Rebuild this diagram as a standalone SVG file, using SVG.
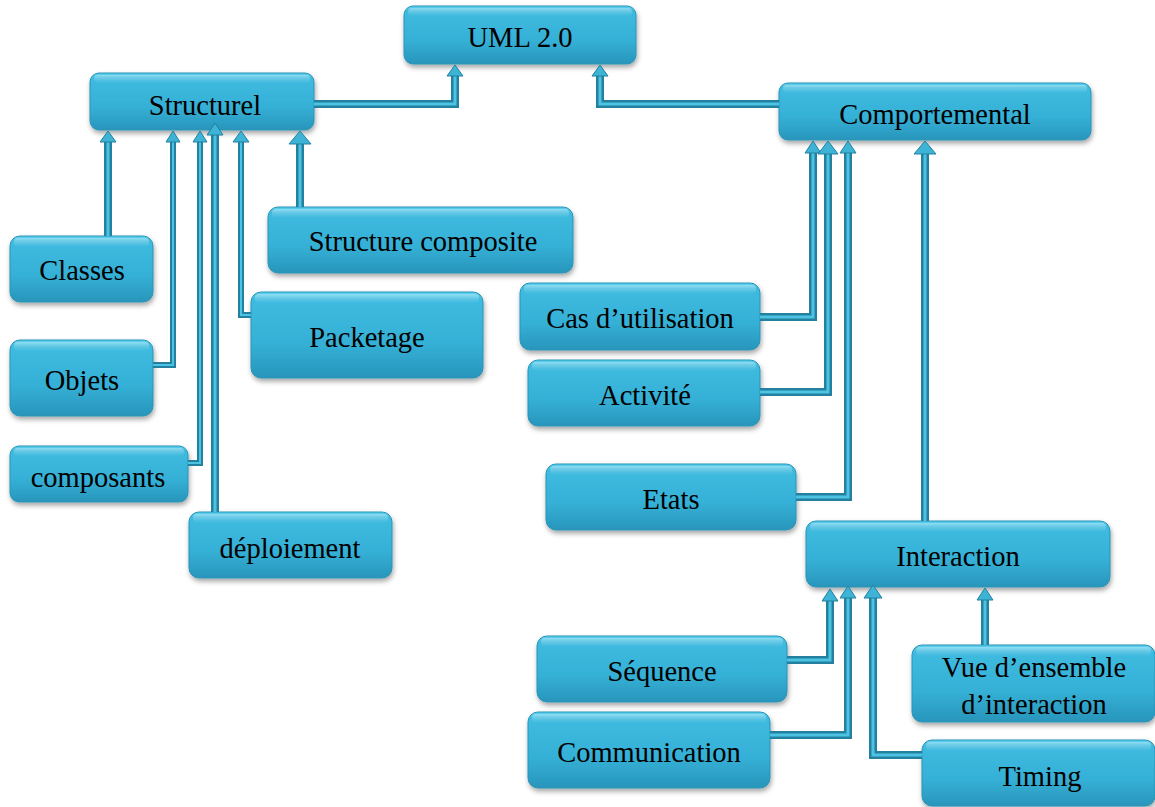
<svg xmlns="http://www.w3.org/2000/svg" width="1155" height="807" viewBox="0 0 1155 807">
  <style>
    .box rect.body { fill: url(#boxFill); stroke: #2a93b6; stroke-width: 1; filter: url(#shadow); }
    .box rect.gloss { fill: url(#gloss); }
    .box text { font-family: "Liberation Serif", "Times New Roman", serif; font-size: 28.5px; fill: #000; text-anchor: middle; dominant-baseline: central; }
    .c-out { fill: none; stroke: #23809f; stroke-width: 8; stroke-linejoin: miter; }
    .c-in { fill: none; stroke: #4cc3e3; stroke-width: 3; stroke-linejoin: miter; }
    .thin .c-out { stroke-width: 6; }
    .thin .c-in { stroke-width: 2; }
    .head { fill: #3db3d6; stroke: #23809f; stroke-width: 1; }
  </style>
  <defs>
    <linearGradient id="boxFill" x1="0" y1="0" x2="0" y2="1">
      <stop offset="0" stop-color="#5fd3f0"/>
      <stop offset="0.08" stop-color="#3fbbe0"/>
      <stop offset="0.6" stop-color="#35b0d6"/>
      <stop offset="1" stop-color="#2895bb"/>
    </linearGradient>
    <linearGradient id="gloss" x1="0" y1="0" x2="0" y2="1">
      <stop offset="0" stop-color="#ffffff" stop-opacity="0.35"/>
      <stop offset="1" stop-color="#ffffff" stop-opacity="0"/>
    </linearGradient>
    <filter id="shadow" x="-10%" y="-10%" width="120%" height="140%">
      <feDropShadow dx="1" dy="3" stdDeviation="2.5" flood-color="#000" flood-opacity="0.35"/>
    </filter>
  </defs>

  <!-- nodes -->
  <g id="uml" class="box"><rect class="body" x="404" y="6" width="232" height="58" rx="9"/><rect class="gloss" x="408" y="8" width="224" height="8" rx="4"/><text x="520" y="37">UML 2.0</text></g>
  <g id="structurel" class="box"><rect class="body" x="90" y="73" width="224" height="57" rx="9"/><rect class="gloss" x="94" y="75" width="216" height="8" rx="4"/><text x="205" y="105">Structurel</text></g>
  <g id="comportemental" class="box"><rect class="body" x="779" y="83" width="312" height="57" rx="9"/><rect class="gloss" x="783" y="85" width="304" height="8" rx="4"/><text x="935" y="114">Comportemental</text></g>
  <g id="structure-composite" class="box"><rect class="body" x="268" y="207" width="305" height="66" rx="10"/><rect class="gloss" x="272" y="209" width="297" height="9" rx="4"/><text x="423" y="241">Structure composite</text></g>
  <g id="classes" class="box"><rect class="body" x="10" y="236" width="143" height="66" rx="10"/><rect class="gloss" x="14" y="238" width="135" height="9" rx="4"/><text x="82" y="270">Classes</text></g>
  <g id="packetage" class="box"><rect class="body" x="251" y="292" width="232" height="86" rx="10"/><rect class="gloss" x="255" y="294" width="224" height="9" rx="4"/><text x="367" y="337">Packetage</text></g>
  <g id="objets" class="box"><rect class="body" x="10" y="340" width="143" height="76" rx="10"/><rect class="gloss" x="14" y="342" width="135" height="9" rx="4"/><text x="82" y="380">Objets</text></g>
  <g id="composants" class="box"><rect class="body" x="10" y="446" width="178" height="56" rx="9"/><rect class="gloss" x="14" y="448" width="170" height="8" rx="4"/><text x="98" y="477">composants</text></g>
  <g id="deploiement" class="box"><rect class="body" x="189" y="512" width="203" height="66" rx="10"/><rect class="gloss" x="193" y="514" width="195" height="9" rx="4"/><text x="290" y="548">déploiement</text></g>
  <g id="cas-utilisation" class="box"><rect class="body" x="520" y="283" width="240" height="67" rx="10"/><rect class="gloss" x="524" y="285" width="232" height="9" rx="4"/><text x="640" y="318">Cas d’utilisation</text></g>
  <g id="activite" class="box"><rect class="body" x="528" y="360" width="232" height="66" rx="10"/><rect class="gloss" x="532" y="362" width="224" height="9" rx="4"/><text x="645" y="395">Activité</text></g>
  <g id="etats" class="box"><rect class="body" x="546" y="464" width="250" height="66" rx="10"/><rect class="gloss" x="550" y="466" width="242" height="9" rx="4"/><text x="671" y="499">Etats</text></g>
  <g id="interaction" class="box"><rect class="body" x="806" y="521" width="304" height="66" rx="10"/><rect class="gloss" x="810" y="523" width="296" height="9" rx="4"/><text x="958" y="556">Interaction</text></g>
  <g id="sequence" class="box"><rect class="body" x="537" y="636" width="250" height="66" rx="10"/><rect class="gloss" x="541" y="638" width="242" height="9" rx="4"/><text x="662" y="671">Séquence</text></g>
  <g id="communication" class="box"><rect class="body" x="528" y="712" width="242" height="76" rx="10"/><rect class="gloss" x="532" y="714" width="234" height="9" rx="4"/><text x="649" y="752">Communication</text></g>
  <g id="vue-ensemble" class="box"><rect class="body" x="912" y="645" width="243" height="77" rx="10"/><rect class="gloss" x="916" y="647" width="235" height="9" rx="4"/><text x="1034" y="667">Vue d’ensemble</text><text x="1034" y="704">d’interaction</text></g>
  <g id="timing" class="box"><rect class="body" x="922" y="740" width="233" height="66" rx="10"/><rect class="gloss" x="926" y="742" width="225" height="9" rx="4"/><text x="1040" y="776">Timing</text></g>

  <!-- connectors: bar paths end at the arrowhead base, heads drawn as triangles -->
  <g id="connectors">
    <g><path class="c-out" d="M314,104 H455 V75"/><path class="c-in" d="M314,104 H455 V75"/><polygon class="head" points="447,76 463,76 455,65"/></g>
    <g><path class="c-out" d="M779,104 H600 V75"/><path class="c-in" d="M779,104 H600 V75"/><polygon class="head" points="592,76 608,76 600,65"/></g>
    <g><path class="c-out" d="M108,236 V141"/><path class="c-in" d="M108,236 V141"/><polygon class="head" points="100,142 116,142 108,131"/></g>
    <g class="thin"><path class="c-out" d="M153,365 H173 V141"/><path class="c-in" d="M153,365 H173 V141"/><polygon class="head" points="166,142 180,142 173,131"/></g>
    <g class="thin"><path class="c-out" d="M188,463 H200 V141"/><path class="c-in" d="M188,463 H200 V141"/><polygon class="head" points="193,142 207,142 200,131"/></g>
    <g><path class="c-out" d="M215,512 V134"/><path class="c-in" d="M215,512 V134"/><polygon class="head" points="207,135 223,135 215,123"/></g>
    <g class="thin"><path class="c-out" d="M251,315 H241 V141"/><path class="c-in" d="M251,315 H241 V141"/><polygon class="head" points="233,142 249,142 241,131"/></g>
    <g><path class="c-out" d="M300,207 V143"/><path class="c-in" d="M300,207 V143"/><polygon class="head" points="289,144 311,144 300,131"/></g>
    <g><path class="c-out" d="M760,317 H813 V152"/><path class="c-in" d="M760,317 H813 V152"/><polygon class="head" points="805,153 821,153 813,141"/></g>
    <g><path class="c-out" d="M760,392 H828 V153"/><path class="c-in" d="M760,392 H828 V153"/><polygon class="head" points="818,154 838,154 828,141"/></g>
    <g><path class="c-out" d="M796,497 H848 V152"/><path class="c-in" d="M796,497 H848 V152"/><polygon class="head" points="840,153 856,153 848,141"/></g>
    <g><path class="c-out" d="M925,521 V153"/><path class="c-in" d="M925,521 V153"/><polygon class="head" points="914,154 936,154 925,141"/></g>
    <g><path class="c-out" d="M787,660 H830 V600"/><path class="c-in" d="M787,660 H830 V600"/><polygon class="head" points="822,601 838,601 830,589"/></g>
    <g><path class="c-out" d="M770,735 H848 V597"/><path class="c-in" d="M770,735 H848 V597"/><polygon class="head" points="840,598 856,598 848,586"/></g>
    <g><path class="c-out" d="M922,755 H873 V597"/><path class="c-in" d="M922,755 H873 V597"/><polygon class="head" points="864,598 882,598 873,585"/></g>
    <g><path class="c-out" d="M985,645 V599"/><path class="c-in" d="M985,645 V599"/><polygon class="head" points="977,600 993,600 985,588"/></g>
  </g>
</svg>
